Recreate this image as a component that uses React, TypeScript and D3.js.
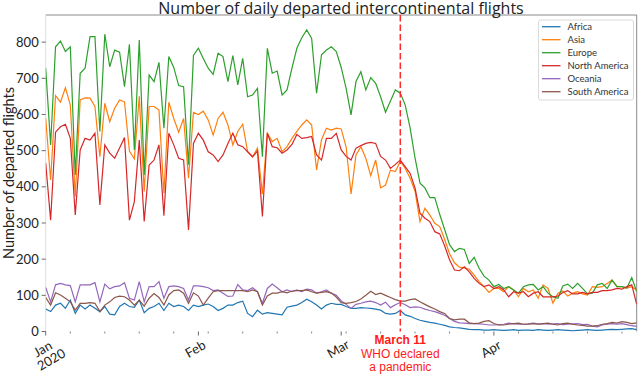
import * as d3 from "d3";

// Daily series, 1 Jan 2020 - 30 Apr 2020
const startDate = new Date(2020, 0, 1);
const endDate = new Date(2020, 4, 1);

const regions = ["Africa", "Asia", "Europe", "North America", "Oceania", "South America"];
const colors = ["#1f77b4", "#ff7f0e", "#2ca02c", "#d62728", "#9467bd", "#8c564b"];

const africa = [
  62, 55, 73, 78, 64, 87, 50, 73, 62, 73,
  64, 55, 69, 48, 46, 69, 78, 69, 67, 87,
  52, 64, 69, 78, 58, 78, 69, 73, 69, 58,
  73, 69, 73, 76, 69, 58, 64, 73, 73, 80,
  84, 50, 41, 59, 48, 52, 50, 48, 46, 67,
  70, 73, 80, 89, 82, 73, 62, 73, 78, 75,
  75, 69, 64, 64, 66, 65, 64, 62, 59, 50,
  48, 50, 58, 46, 42, 36, 31, 28, 25, 23,
  20, 17, 13, 11, 10, 8, 6, 5, 5, 4,
  4, 5, 4, 3, 4, 5, 3, 4, 4, 3,
  5, 4, 3, 4, 5, 4, 3, 2, 3, 4,
  5, 4, 3, 4, 5, 6, 5, 6, 7, 8,
  5,
];
const asia = [
  589, 419, 652, 634, 674, 626, 373, 640, 646, 645,
  622, 483, 631, 580, 617, 640, 635, 499, 477, 650,
  387, 622, 622, 612, 382, 634, 589, 551, 589, 424,
  606, 600, 609, 585, 543, 589, 606, 571, 516, 553,
  573, 497, 483, 507, 380, 548, 525, 534, 497, 511,
  534, 553, 571, 585, 571, 447, 530, 562, 557, 562,
  560, 510, 380, 488, 511, 479, 431, 474, 397, 405,
  446, 442, 470, 451, 424, 387, 304, 341, 322, 299,
  290, 255, 215, 190, 178, 176, 172, 156, 138, 124,
  108, 119, 119, 110, 124, 115, 96, 119, 110, 115,
  92, 129, 119, 78, 106, 112, 98, 106, 110, 104,
  101, 124, 122, 124, 133, 142, 124, 124, 120, 124,
  115,
];
const europe = [
  728, 516, 787, 803, 774, 787, 433, 714, 728, 815,
  815, 553, 822, 732, 778, 772, 677, 794, 502, 806,
  433, 709, 691, 744, 562, 760, 730, 680, 677, 461,
  763, 783, 755, 728, 711, 769, 760, 691, 763, 682,
  755, 649, 654, 672, 483, 783, 714, 720, 654, 668,
  728, 783, 812, 834, 810, 659, 765, 778, 787, 774,
  730, 672, 599, 691, 718, 668, 702, 686, 649, 606,
  637, 668, 659, 626, 562, 479, 410, 397, 370, 370,
  324, 282, 240, 221, 230, 227, 188, 205, 175, 153,
  142, 124, 130, 119, 124, 115, 106, 124, 129, 130,
  115, 124, 106, 96, 92, 126, 131, 119, 133, 119,
  104, 106, 129, 133, 119, 142, 124, 124, 120, 149,
  110,
];
const northAmerica = [
  465, 308, 551, 566, 573, 534, 322, 502, 534, 529,
  548, 350, 516, 493, 479, 507, 536, 308, 359, 529,
  304, 460, 474, 516, 320, 548, 516, 479, 474, 281,
  520, 548, 529, 497, 488, 470, 488, 520, 548, 516,
  511, 497, 483, 499, 318, 548, 511, 508, 493, 502,
  517, 545, 534, 536, 539, 488, 474, 534, 534, 548,
  502, 484, 474, 507, 514, 520, 523, 520, 484, 474,
  451, 462, 474, 456, 437, 396, 327, 313, 304, 276,
  270, 237, 198, 170, 168, 179, 165, 147, 133, 124,
  129, 119, 124, 115, 96, 110, 106, 110, 96, 106,
  110, 96, 96, 96, 98, 108, 113, 104, 104, 108,
  104, 108, 108, 113, 113, 115, 119, 117, 124, 129,
  75,
];
const oceania = [
  122, 82, 129, 133, 129, 127, 82, 129, 129, 129,
  135, 82, 131, 118, 124, 126, 135, 92, 87, 138,
  82, 124, 124, 138, 92, 124, 126, 124, 119, 87,
  126, 126, 124, 121, 113, 115, 106, 97, 98, 130,
  115, 113, 121, 110, 78, 119, 131, 121, 110, 115,
  110, 115, 110, 117, 115, 106, 110, 115, 106, 100,
  85, 75, 64, 75, 78, 82, 84, 80, 73, 81,
  66, 74, 80, 74, 66, 68, 67, 62, 58, 55,
  50, 45, 36, 28, 24, 23, 22, 22, 21, 20,
  18, 18, 19, 20, 23, 21, 20, 20, 21, 23,
  21, 22, 20, 21, 22, 19, 20, 21, 22, 19,
  20, 15, 13, 18, 20, 22, 20, 22, 19, 16,
  14,
];
const southAmerica = [
  94, 73, 107, 101, 92, 82, 59, 78, 78, 80,
  78, 55, 73, 82, 94, 98, 96, 87, 73, 87,
  70, 92, 105, 94, 73, 101, 113, 115, 106, 78,
  107, 98, 73, 92, 110, 113, 113, 113, 113, 113,
  113, 110, 115, 110, 73, 98, 106, 106, 110, 107,
  112, 113, 113, 115, 110, 106, 108, 110, 106, 95,
  80, 78, 80, 83, 90, 100, 111, 102, 106, 100,
  94, 88, 84, 84, 88, 90, 82, 75, 68, 62,
  55, 50, 36, 32, 34, 34, 24, 22, 23, 28,
  30, 22, 18, 18, 20, 22, 23, 20, 20, 22,
  20, 22, 23, 20, 18, 22, 23, 20, 18, 17,
  15, 15, 16, 20, 22, 25, 23, 27, 25, 22,
  24,
];

const series = [africa, asia, europe, northAmerica, oceania, southAmerica];
const yTicks = [0, 100, 200, 300, 400, 500, 600, 700, 800];
const monthLabels = [["Jan", "2020"], ["Feb"], ["Mar"], ["Apr"]];
const markerDate = new Date(2020, 2, 13);
const markerText = ["March 11", "WHO declared", "a pandemic"];

const W = 640;
const H = 375;
const left = 45.7;
const right = 636.7;
const top = 15;
const bottom = 331.5;
const font = "Lato, 'Open Sans', sans-serif";

export default function App() {
  const days = d3.timeDay.range(startDate, endDate);
  const x = d3.scaleTime().domain([days[0], days[days.length - 1]]).range([left, right]);
  const y = d3.scaleLinear().domain([0, 875]).range([bottom, top]);

  const line = d3
    .line<number>()
    .x((_, i) => x(days[i]))
    .y((v) => y(v));

  const monthTicks = d3.timeMonth.range(startDate, endDate);
  const weekTicks = d3.timeMonday.range(startDate, endDate);
  const mx = x(markerDate);

  return (
    <div style={{ position: "absolute", left: 0, top: 0 }}>
      <svg width={W} height={H} style={{ display: "block", background: "#fff" }}>
        <defs>
          <clipPath id="plot">
            <rect x={left} y={top} width={right - left} height={bottom - top} />
          </clipPath>
        </defs>

        {/* frame */}
        <line x1={left} x2={right} y1={top} y2={top} stroke="#8a8a8a" strokeWidth={1} />
        <line x1={right} x2={right} y1={top} y2={bottom} stroke="#8a8a8a" strokeWidth={1} />
        <line x1={left} x2={left} y1={top} y2={bottom} stroke="#dddddd" strokeWidth={1} />

        {/* y axis */}
        {yTicks.map((t) => (
          <g key={t}>
            <line x1={left - 4} x2={left} y1={y(t)} y2={y(t)} stroke="#444" strokeWidth={0.8} />
            <text
              x={left - 7}
              y={y(t)}
              dy="0.35em"
              textAnchor="end"
              fontFamily={font}
              fontSize={13}
              fill="#222"
            >
              {t}
            </text>
          </g>
        ))}
        <text
          transform={`translate(14,173) rotate(-90)`}
          textAnchor="middle"
          fontFamily={font}
          fontSize={14.5}
          fill="#222"
        >
          Number of departed flights
        </text>

        {/* x axis */}
        {weekTicks.map((d) => (
          <line key={+d} x1={x(d)} x2={x(d)} y1={bottom} y2={bottom + 2} stroke="#666" strokeWidth={0.8} />
        ))}
        {monthTicks.map((d, i) => (
          <g key={+d}>
            <line x1={x(d)} x2={x(d)} y1={bottom} y2={bottom + 4} stroke="#444" strokeWidth={0.8} />
            {monthLabels[i].map((s, j) => (
              <text
                key={s}
                transform={`translate(${x(d) - 3 + j * 8.5},${349 + j * 10.5}) rotate(-30)`}
                textAnchor="middle"
                dy="0.35em"
                fontFamily={font}
                fontSize={13}
                fill="#222"
              >
                {s}
              </text>
            ))}
          </g>
        ))}

        {/* lines */}
        <g clipPath="url(#plot)">
          {series.map((s, i) => (
            <path key={regions[i]} d={line(s) ?? ""} fill="none" stroke={colors[i]} strokeWidth={1.2} />
          ))}
        </g>

        {/* pandemic marker */}
        <line
          x1={mx}
          x2={mx}
          y1={top}
          y2={bottom}
          stroke="#ff2a2a"
          strokeWidth={1.5}
          strokeDasharray="6.5,3"
        />
        {markerText.map((s, i) => (
          <text
            key={s}
            x={mx}
            y={344 + i * 13.5}
            textAnchor="middle"
            fontFamily="'Liberation Sans', Arial, sans-serif"
            fontSize={12}
            fontWeight={i === 0 ? 700 : 400}
            fill="#ff1a1a"
          >
            {s}
          </text>
        ))}

        {/* title */}
        <text
          x={341}
          y={13.5}
          textAnchor="middle"
          fontFamily="'Open Sans', Lato, sans-serif"
          fontSize={16}
          fill="#222"
        >
          Number of daily departed intercontinental flights
        </text>

        {/* legend */}
        <g transform="translate(538.5,20)">
          <rect width={95} height={80} rx={2} fill="#fff" fillOpacity={0.9} stroke="#d0d0d0" strokeWidth={0.8} />
          {regions.map((r, i) => (
            <g key={r} transform={`translate(0,${6.7 + i * 13})`}>
              <line x1={3.5} x2={22} y1={0} y2={0} stroke={colors[i]} strokeWidth={1.3} />
              <text x={29} y={0} dy="0.35em" fontFamily={font} fontSize={9.5} fill="#333">
                {r}
              </text>
            </g>
          ))}
        </g>
      </svg>
    </div>
  );
}
